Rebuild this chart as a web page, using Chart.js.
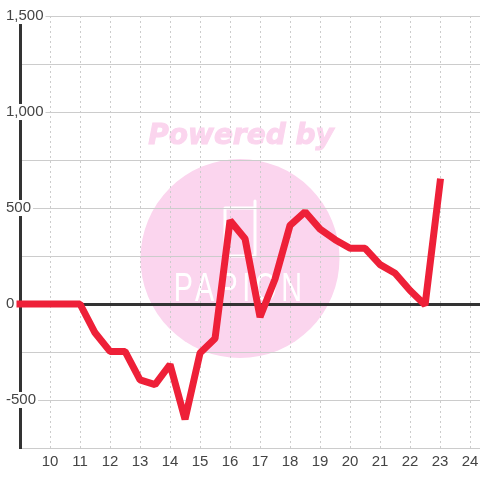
<!DOCTYPE html>
<html>
<head>
<meta charset="utf-8">
<style>
  html, body { margin: 0; padding: 0; background: #fff; }
  #wrap { width: 480px; height: 480px; }
</style>
<script src="https://cdn.jsdelivr.net/npm/chart.js@4"></script>
</head>
<body>
<div id="wrap"><canvas id="myChart"></canvas></div>
<script>
const hours = [9, 9.5, 10, 10.5, 11, 11.5, 12, 12.5, 13, 13.5, 14, 14.5, 15, 15.5, 16, 16.5, 17, 17.5, 18, 18.5, 19, 19.5, 20, 20.5, 21, 21.5, 22, 22.5, 23];
const values = [0, 0, 0, 0, 0, -150, -247, -247, -395, -420, -315, -600, -255, -180, 435, 340, -68, 130, 410, 480, 390, 335, 290, 290, 205, 160, 70, -5, 635];

// watermark behind the grid
const watermark = {
  id: 'watermark',
  beforeDraw(chart) {
    const ctx = chart.ctx;
    ctx.save();
    ctx.fillStyle = '#fbd5ee';
    ctx.strokeStyle = '#fbd5ee';
    ctx.beginPath();
    ctx.arc(240, 258.5, 99.5, 0, Math.PI * 2);
    ctx.fill();
    ctx.font = 'italic bold 28px "DejaVu Sans"';
    ctx.textAlign = 'center';
    ctx.textBaseline = 'middle';
    ctx.lineWidth = 1;
    ctx.fillText('Powered by', 241, 137);
    ctx.strokeText('Powered by', 241, 137);
    // logo
    ctx.strokeStyle = '#fff';
    ctx.lineWidth = 3;
    ctx.lineCap = 'round';
    ctx.lineJoin = 'round';
    ctx.beginPath();
    ctx.moveTo(225, 256);
    ctx.lineTo(225, 208);
    ctx.lineTo(254, 208);
    ctx.moveTo(255, 201);
    ctx.lineTo(255, 256);
    ctx.lineTo(225, 256);
    ctx.stroke();
    ctx.fillStyle = '#fff';
    ctx.translate(240, 290);
    ctx.scale(0.72, 1);
    ctx.font = '40px "Liberation Sans"';
    ctx.letterSpacing = '6px';
    ctx.fillText('PAPION', 0, 0);
    ctx.restore();
  }
};

const ctx = document.getElementById('myChart').getContext('2d');
const myChart = new Chart(ctx, {
  type: 'line',
  data: {
    datasets: [{
      data: hours.map((h, i) => ({ x: h, y: values[i] })),
      borderColor: '#ee2038',
      borderWidth: 7,
      borderJoinStyle: 'bevel',
      borderCapStyle: 'square',
      pointRadius: 0,
      tension: 0,
      fill: false,
      clip: false
    }]
  },
  options: {
    responsive: true,
    maintainAspectRatio: false,
    animation: false,
    layout: { padding: { left: 0, top: 16, bottom: 0, right: 0 } },
    plugins: { legend: { display: false }, tooltip: { enabled: false } },
    scales: {
      x: {
        type: 'linear',
        min: 9,
        max: 24.33,
        grid: { color: '#ccc', lineWidth: 1, drawTicks: false },
        border: { color: '#ccc', width: 1, dash: [2, 3] },
        ticks: {
          stepSize: 1,
          includeBounds: false,
          autoSkip: false,
          maxRotation: 0,
          padding: 5,
          color: '#444',
          font: { family: '"Liberation Sans"', size: 15 },
          callback: (v) => (v === 9 ? '' : String(v))
        },
        afterFit: (s) => { s.height = 32; s.paddingLeft = 0; s.paddingRight = 0; }
      },
      y: {
        min: -750,
        max: 1500,
        grid: {
          drawTicks: false,
          color: (c) => (c.tick && c.tick.value === 0 ? '#333' : '#ccc'),
          lineWidth: (c) => (c.tick && c.tick.value === 0 ? 3 : 1)
        },
        border: { color: '#333', width: 3 },
        ticks: {
          stepSize: 250,
          mirror: true,
          padding: -14,
          color: '#444',
          showLabelBackdrop: true,
          backdropColor: '#fff',
          backdropPadding: { top: 0, bottom: 0, left: 2, right: 2 },
          font: { family: '"Liberation Sans"', size: 15, lineHeight: 1.07 },
          callback: (v) => (v % 500 === 0 ? v.toLocaleString('en-US') : '')
        },
        afterFit: (s) => { s.width = 20; s.paddingTop = 0; s.paddingBottom = 0; }
      }
    }
  },
  plugins: [watermark]
});
</script>
</body>
</html>
